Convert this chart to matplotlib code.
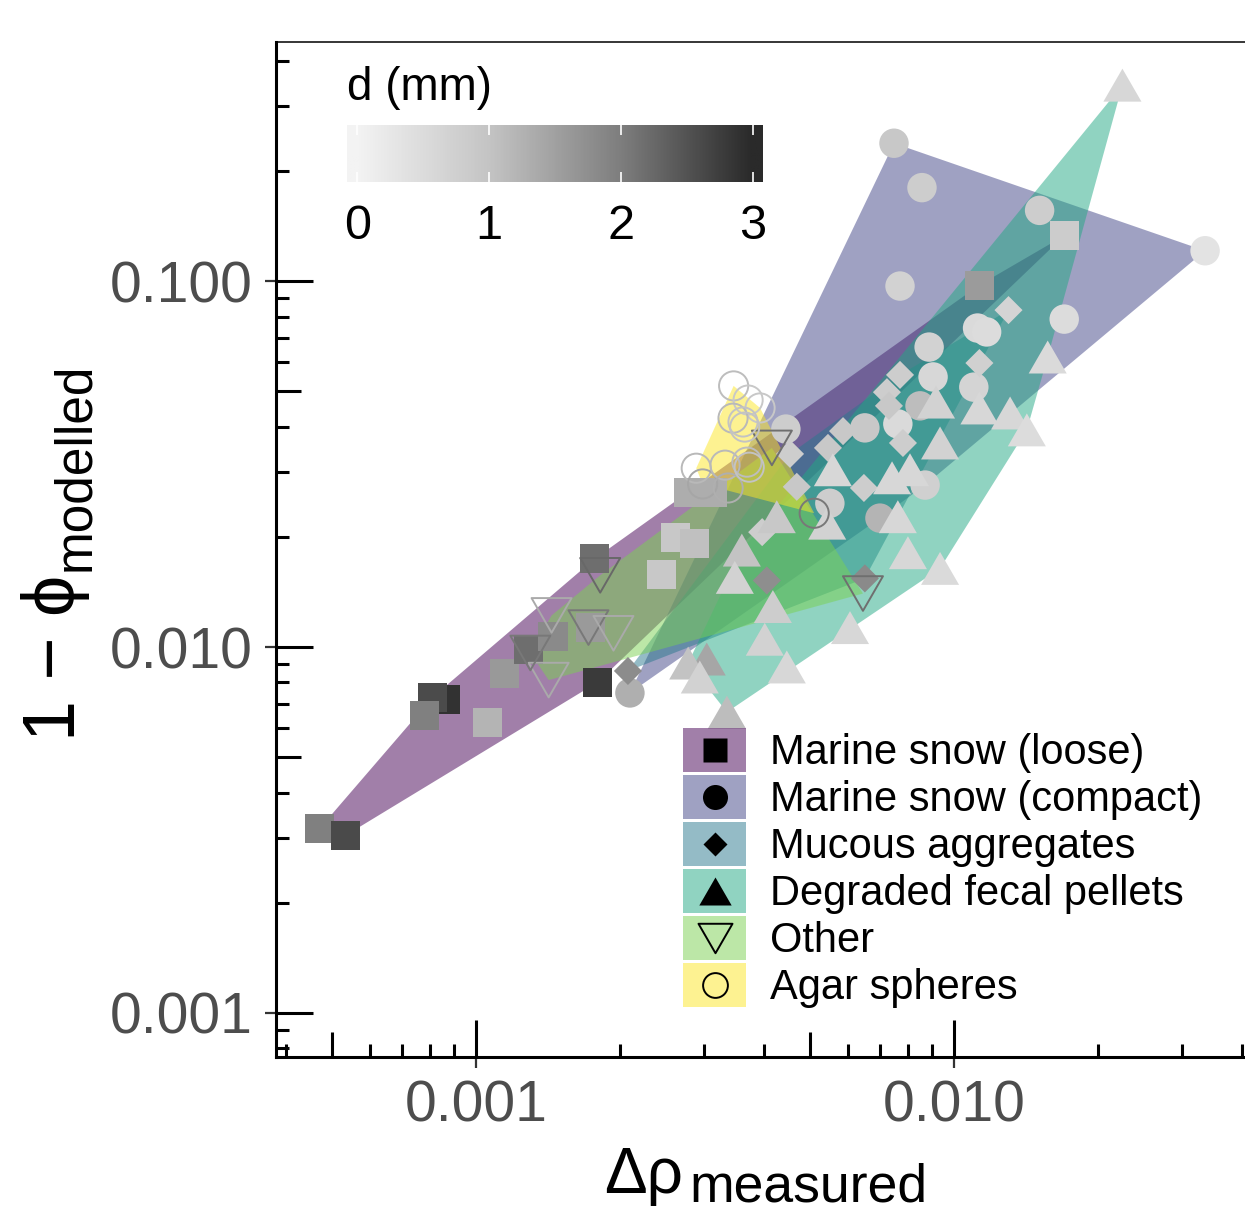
import numpy as np
import matplotlib
matplotlib.use('Agg')
import matplotlib.pyplot as plt
from matplotlib.colors import LinearSegmentedColormap, Normalize
from matplotlib.patches import Rectangle
from matplotlib.path import Path

plt.rcParams['font.family'] = ['Liberation Sans', 'DejaVu Sans']

# categorie e colori dei poligoni (viridis, 6 livelli)
categories = ['Marine snow (loose)', 'Marine snow (compact)', 'Mucous aggregates',
              'Degraded fecal pellets', 'Other', 'Agar spheres']
hull_colors = ['#440154', '#414487', '#2A788E', '#22A884', '#7AD151', '#FDE725']

loose_drho = [4.72e-4, 5.35e-4, 8.66e-4, 8.13e-4, 7.82e-4, 1.06e-3, 1.15e-3, 1.29e-3, 1.45e-3, 1.74e-3,
              1.77e-3, 1.80e-3, 2.45e-3, 2.61e-3, 2.86e-3, 2.78e-3, 3.13e-3, 1.13e-2, 1.70e-2]
loose_phi = [3.20e-3, 3.06e-3, 7.17e-3, 7.30e-3, 6.48e-3, 6.20e-3, 8.44e-3, 9.87e-3, 1.07e-2, 1.13e-2,
             1.74e-2, 8.02e-3, 1.58e-2, 1.99e-2, 1.92e-2, 2.65e-2, 2.64e-2, 9.75e-2, 0.133]
loose_d = [1.97, 2.62, 2.90, 2.61, 1.97, 1.24, 1.61, 2.19, 1.83, 1.60,
           2.19, 2.81, 0.91, 0.91, 1.06, 1.33, 1.33, 1.59, 0.83]

compact_drho = [7.49e-3, 8.57e-3, 7.71e-3, 1.51e-2, 3.35e-2, 1.70e-2, 1.12e-2, 1.17e-2, 8.87e-3, 9.04e-3,
                1.10e-2, 8.49e-3, 7.63e-3, 6.51e-3, 8.70e-3, 7.00e-3, 5.50e-3, 4.45e-3, 2.10e-3]
compact_phi = [0.238, 0.180, 9.69e-2, 0.156, 0.121, 7.87e-2, 7.44e-2, 7.26e-2, 6.60e-2, 5.47e-2,
               5.13e-2, 4.56e-2, 4.07e-2, 3.97e-2, 2.77e-2, 2.25e-2, 2.47e-2, 3.94e-2, 7.49e-3]
compact_d = [0.91, 0.81, 0.70, 0.81, 0.34, 0.49, 0.53, 0.49, 0.70, 0.60,
             0.66, 1.09, 0.53, 0.91, 0.74, 1.23, 0.81, 0.81, 1.29]

mucous_drho = [1.30e-2, 1.13e-2, 7.71e-3, 7.24e-3, 7.31e-3, 5.86e-3, 5.45e-3, 7.82e-3, 6.48e-3, 4.69e-3,
               4.54e-3, 3.97e-3, 4.06e-3, 6.51e-3, 2.08e-3]
mucous_phi = [8.33e-2, 5.97e-2, 5.54e-2, 4.97e-2, 4.56e-2, 3.89e-2, 3.50e-2, 3.61e-2, 2.72e-2, 2.74e-2,
              3.37e-2, 2.06e-2, 1.52e-2, 1.54e-2, 8.60e-3]
mucous_d = [0.66, 0.74, 0.81, 0.81, 0.91, 0.91, 0.91, 0.81, 0.81, 0.91,
            0.81, 0.81, 1.77, 1.83, 1.80]

fecal_drho = [2.25e-2, 1.57e-2, 1.31e-2, 1.42e-2, 1.13e-2, 9.35e-3, 9.17e-3, 8.09e-3, 7.42e-3, 5.58e-3,
              7.63e-3, 5.43e-3, 4.26e-3, 8.01e-3, 9.35e-3, 3.60e-3, 3.48e-3, 4.18e-3, 6.06e-3, 4.02e-3,
              4.47e-3, 3.04e-3, 2.78e-3, 2.94e-3, 3.35e-3]
fecal_phi = [0.343, 6.20e-2, 4.36e-2, 3.92e-2, 4.50e-2, 3.61e-2, 4.67e-2, 3.05e-2, 2.90e-2, 3.05e-2,
             2.27e-2, 2.18e-2, 2.27e-2, 1.81e-2, 1.64e-2, 1.84e-2, 1.55e-2, 1.29e-2, 1.13e-2, 1.05e-2,
             8.82e-3, 9.27e-3, 9.04e-3, 8.28e-3, 6.64e-3]
fecal_d = [0.60, 0.53, 0.60, 0.49, 0.60, 0.70, 0.70, 0.60, 0.60, 0.60,
           0.60, 0.70, 0.91, 0.60, 0.53, 1.01, 0.70, 0.81, 0.60, 0.70,
           0.60, 1.44, 1.01, 0.70, 1.09]

other_drho = [4.16e-3, 1.82e-3, 1.44e-3, 1.72e-3, 1.94e-3, 1.42e-3, 1.30e-3, 6.45e-3]
other_phi = [3.50e-2, 1.57e-2, 1.22e-2, 1.13e-2, 1.09e-2, 8.12e-3, 9.63e-3, 1.40e-2]
other_d = [2.17, 2.25, 1.37, 2.07, 1.37, 1.37, 2.07, 2.17]

agar_drho = [3.46e-3, 3.71e-3, 3.93e-3, 3.45e-3, 3.62e-3, 3.65e-3, 2.89e-3, 2.98e-3, 3.32e-3, 3.37e-3,
             3.69e-3, 3.73e-3, 5.10e-3]
agar_phi = [5.17e-2, 4.73e-2, 4.50e-2, 4.22e-2, 4.12e-2, 3.99e-2, 3.08e-2, 2.79e-2, 3.14e-2, 2.72e-2,
            3.20e-2, 3.10e-2, 2.32e-2]
agar_d = [1.09, 0.91, 0.91, 1.16, 1.01, 1.01, 1.16, 1.44, 1.16, 1.30,
          1.09, 1.01, 2.07]

x_ticks = [0.001, 0.01]
x_ticklabels = ['0.001', '0.010']
y_ticks = [0.001, 0.01, 0.1]
y_ticklabels = ['0.001', '0.010', '0.100']
cbar_ticks = [0, 1, 2, 3]

drho_all = [loose_drho, compact_drho, mucous_drho, fecal_drho, other_drho, agar_drho]
phi_all = [loose_phi, compact_phi, mucous_phi, fecal_phi, other_phi, agar_phi]
d_all = [loose_d, compact_d, mucous_d, fecal_d, other_d, agar_d]

# scala di grigi per d
grey_nodes = [(0.0, 243), (1 / 3, 196), (2 / 3, 126), (1.0, 42)]
cmap = LinearSegmentedColormap.from_list('greys_d', [(p, (g / 255,) * 3) for p, g in grey_nodes])
norm = Normalize(0, 3.0)

# marker
tri_up = Path([(0, 0.866), (-1, -0.866), (1, -0.866), (0, 0.866)], closed=True)
tri_down = Path([(0, -0.866), (-1, 0.866), (1, 0.866), (0, -0.866)], closed=True)
markers = ['s', 'o', 'D', tri_up, tri_down, 'o']
filled = [True, True, True, True, False, False]
msize = [20.9, 21.2, 14.3, 27.4, 28.8, 21.0]


def convex_hull(x, y):
    pts = sorted(set(zip(np.log10(x), np.log10(y))))

    def cross(o, a, b):
        return (a[0] - o[0]) * (b[1] - o[1]) - (a[1] - o[1]) * (b[0] - o[0])
    lower, upper = [], []
    for p in pts:
        while len(lower) >= 2 and cross(lower[-2], lower[-1], p) <= 0:
            lower.pop()
        lower.append(p)
    for p in reversed(pts):
        while len(upper) >= 2 and cross(upper[-2], upper[-1], p) <= 0:
            upper.pop()
        upper.append(p)
    h = np.array(lower[:-1] + upper[:-1])
    return 10 ** h[:, 0], 10 ** h[:, 1]


W, H = 1245, 1212
fig = plt.figure(figsize=(W / 100, H / 100), dpi=100)
ax = fig.add_axes([276 / W, 1 - 1057 / H, (W - 276) / W, (1057 - 42) / H])
ax.set_xscale('log')
ax.set_yscale('log')
ax.set_xlim(3.82e-4, 4.06e-2)
ax.set_ylim(7.58e-4, 0.450)

# poligoni (convex hull)
for i in range(len(categories)):
    hx, hy = convex_hull(drho_all[i], phi_all[i])
    ax.fill(hx, hy, color=hull_colors[i], alpha=0.5, lw=0, zorder=1)

# punti
for i in range(len(categories)):
    cols = cmap(norm(np.array(d_all[i])))
    if filled[i]:
        ax.scatter(drho_all[i], phi_all[i], s=msize[i] ** 2, marker=markers[i], c=cols,
                   edgecolors='none', zorder=3)
    else:
        ax.scatter(drho_all[i], phi_all[i], s=msize[i] ** 2, marker=markers[i], facecolors='none',
                   edgecolors=cols, linewidths=1.4, zorder=3)

# assi
for s in ['left', 'bottom']:
    ax.spines[s].set_linewidth(2.2)
ax.spines['top'].set_linewidth(1.1)
ax.spines['right'].set_visible(False)
ax.set_xticks(x_ticks)
ax.set_xticklabels(x_ticklabels)
ax.set_yticks(y_ticks)
ax.set_yticklabels(y_ticklabels)
ax.xaxis.set_minor_locator(matplotlib.ticker.NullLocator())
ax.yaxis.set_minor_locator(matplotlib.ticker.NullLocator())
ax.tick_params(which='major', direction='out', length=8, width=1.6, color='#333333',
               labelsize=41, labelcolor='#4D4D4D')
ax.tick_params(axis='x', pad=8)
ax.tick_params(axis='y', pad=9)

# log ticks interni (corti, medi, lunghi)
ax_w, ax_h = W - 276, 1057 - 42
lens = {1: 37, 5: 25}
for axis_name, (lo, hi) in [('x', ax.get_xlim()), ('y', ax.get_ylim())]:
    for e in range(int(np.floor(np.log10(lo))), int(np.ceil(np.log10(hi))) + 1):
        for k in range(1, 10):
            v = k * 10.0 ** e
            if not (lo <= v <= hi):
                continue
            L = lens.get(k, 13)
            if axis_name == 'x':
                ax.plot([v, v], [0, L / ax_h], transform=ax.get_xaxis_transform(), color='black',
                        lw=2.2, solid_capstyle='butt', clip_on=False, zorder=5)
            else:
                ax.plot([0, L / ax_w], [v, v], transform=ax.get_yaxis_transform(), color='black',
                        lw=2.2, solid_capstyle='butt', clip_on=False, zorder=5)

# etichette degli assi
fig.text(604 / W, 1 - 1193 / H, 'Δρ', fontsize=46, ha='left', va='baseline')
fig.text(689 / W, 1 - 1202 / H, 'measured', fontsize=38.5, ha='left', va='baseline')
fig.text(75 / W, 1 - 741 / H, '1 − ϕ', fontsize=53, rotation=90, rotation_mode='anchor',
         ha='left', va='baseline')
fig.text(89 / W, 1 - 571 / H, 'modelled', fontsize=37, rotation=90, rotation_mode='anchor',
         ha='left', va='baseline')

# barra dei colori
cax = fig.add_axes([347 / W, 1 - 182 / H, 416 / W, 57 / H])
pad_d = 3.0 / 38
grad = np.linspace(-pad_d, 3.0 + pad_d, 400)[None, :]
cax.imshow(grad, extent=[-pad_d, 3.0 + pad_d, 0, 1], aspect='auto', cmap=cmap, norm=norm)
cax.set_xlim(-pad_d, 3.0 + pad_d)
cax.set_xticks(cbar_ticks)
cax.set_xticklabels([str(t) for t in cbar_ticks])
cax.set_yticks([])
cax.tick_params(axis='x', direction='in', length=7, width=1.2, color='white', top=True,
                bottom=True, labelsize=35, pad=16)
for s in cax.spines.values():
    s.set_visible(False)
fig.text(347 / W, 1 - 100 / H, 'd (mm)', fontsize=33, ha='left', va='baseline')

# legenda
lax = fig.add_axes([0, 0, 1, 1], zorder=10)
lax.set_xlim(0, W)
lax.set_ylim(H, 0)
lax.axis('off')
for i, cat in enumerate(categories):
    top = 728 + 47 * i
    lax.add_patch(Rectangle((683, top), 63, 44, facecolor=hull_colors[i], alpha=0.5, lw=0))
    if filled[i]:
        lax.plot(714.5, top + 22, marker=markers[i], ms=msize[i] * 0.85, color='black', mec='none')
    else:
        lax.plot(714.5, top + 22, marker=markers[i], ms=msize[i] * 0.85, mfc='none', mec='black', mew=1.4)
    lax.text(770, top + 25, cat, fontsize=30, ha='left', va='center')

fig.savefig('out.png', dpi=100)
